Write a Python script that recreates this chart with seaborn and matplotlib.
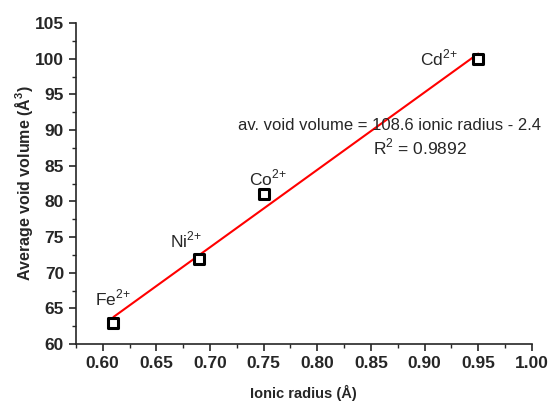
import numpy as np
import pandas as pd
import matplotlib
matplotlib.use('Agg')
import matplotlib.pyplot as plt
import seaborn as sns
from matplotlib.ticker import MultipleLocator

# données
ions = ['Fe$^{2{+}}$', 'Ni$^{2{+}}$', 'Co$^{2{+}}$', 'Cd$^{2{+}}$']
radius = [0.61, 0.69, 0.75, 0.95]
void_volume = [63, 72, 81, 100]

df = pd.DataFrame({'radius': radius, 'volume': void_volume})

sns.set_style('ticks')
plt.rcParams['font.family'] = ['Liberation Sans', 'DejaVu Sans']
plt.rcParams['mathtext.fontset'] = 'custom'
plt.rcParams['mathtext.rm'] = 'Liberation Sans'
plt.rcParams['mathtext.bf'] = 'Liberation Sans:bold'

fig, ax = plt.subplots(figsize=(5.5, 4.03), dpi=100)

# ajustement linéaire
slope, intercept = np.polyfit(radius, void_volume, 1)
xfit = np.array([min(radius), max(radius)])
sns.lineplot(x=xfit, y=slope * xfit + intercept, color='red', lw=1.5, ax=ax)

sns.scatterplot(data=df, x='radius', y='volume', marker='s', s=55,
                facecolor='white', edgecolor='black', linewidth=2.2, ax=ax, zorder=3)

# étiquettes des ions
offsets = [(-0.017, 3.4), (-0.027, 2.6), (-0.014, 2.3), (-0.054, 0.1)]
for name, x, y, (dx, dy) in zip(ions, radius, void_volume, offsets):
    ax.text(x + dx, y + dy, name, fontsize=12.5, ha='left', va='center')

ax.text(0.867, 90.7, 'av. void volume = 108.6 ionic radius - 2.4', fontsize=12, ha='center', va='center')
ax.text(0.896, 87.6, 'R$^{2}$ = 0.9892', fontsize=12.5, ha='center', va='center')

ax.set_xlim(0.575, 1.0)
ax.set_ylim(60, 105)
ax.xaxis.set_major_locator(MultipleLocator(0.05))
ax.xaxis.set_minor_locator(MultipleLocator(0.025))
ax.yaxis.set_major_locator(MultipleLocator(5))
ax.yaxis.set_minor_locator(MultipleLocator(2.5))
ax.tick_params(which='major', direction='out', length=5, width=1.2, labelsize=12.5)
ax.tick_params(which='minor', direction='out', length=3, width=1.0)
for lbl in ax.get_xticklabels() + ax.get_yticklabels():
    lbl.set_fontweight('bold')
for s in ['left', 'bottom']:
    ax.spines[s].set_linewidth(1.2)
sns.despine(ax=ax)

ax.set_xlabel('Ionic radius (Å)', fontsize=10.5, fontweight='bold')
ax.set_ylabel(r'Average void volume (Å$^{\mathbf{3}}$)', fontsize=11.5, fontweight='bold')
ax.yaxis.set_label_coords(-0.09, 0.5)
ax.xaxis.set_label_coords(0.5, -0.128)

fig.subplots_adjust(left=0.138, right=0.967, top=0.943, bottom=0.146)
fig.savefig('out.png', dpi=100)
